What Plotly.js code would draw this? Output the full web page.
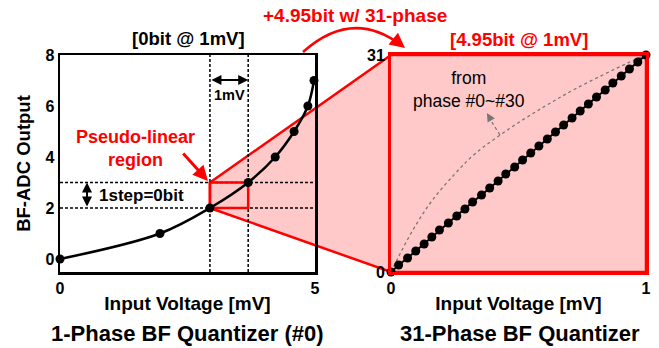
<!DOCTYPE html>
<html>
<head>
<meta charset="utf-8">
<script src="https://cdn.plot.ly/plotly-3.0.1.min.js"></script>
<style>html,body{margin:0;padding:0;background:#fff;}#chart{width:659px;height:348px;}</style>
</head>
<body>
<div id="chart"></div>
<script>
// ---- data ----
const phase0X = [0, 1.96, 2.94, 3.69, 4.22, 4.59, 4.86, 4.98];
const phase0Y = [0, 1, 2, 3, 4, 5, 6, 7];
const multiX = [0, 0.03, 0.065, 0.097, 0.13, 0.16, 0.19, 0.225, 0.258, 0.29, 0.32, 0.355, 0.387, 0.42, 0.45, 0.485,
                0.516, 0.548, 0.58, 0.613, 0.645, 0.677, 0.71, 0.742, 0.774, 0.806, 0.84, 0.87, 0.903, 0.935, 0.968, 1];
const multiY = [0, 1, 2, 3, 4, 5, 6, 7, 8, 9, 10, 11, 12, 13, 14, 15,
                16, 17, 18, 19, 20, 21, 22, 23, 24, 25, 26, 27, 28, 29, 30, 31];
const envX = [0, 0.027, 0.086, 0.157, 0.25, 0.33, 0.465, 0.6, 0.73, 0.925, 1];
const envY = [0, 2.0, 6.0, 10.0, 14.0, 16.9, 20.5, 23.6, 26.3, 29.8, 31];
const leftXTicks = [0, 5];
const leftYTicks = [0, 2, 4, 6, 8];
const rightXTicks = [0, 1];
const rightYTicks = [0, 31];
const winLo = 2.94, winHi = 3.69;   // 1 mV window on phase #0
const stepLo = 2, stepHi = 3;       // 1 step

// ---- layout geometry ----
const W = 659, H = 348;
const FONT = 'Liberation Sans, Arial, sans-serif';
const xDom1 = [60 / W, 315 / W];
const xDom2 = [391 / W, 646 / W];
const yDom = [(H - 272) / H, (H - 55) / H];
const xR1 = [0, 5], yR1 = [-0.51, 8];
const xR2 = [0, 1], yR2 = [0, 31];
const px = x => x / W;
const py = y => 1 - y / H;
function toPaper(v, r, d) { return d[0] + (v - r[0]) / (r[1] - r[0]) * (d[1] - d[0]); }
const L = (x, y) => [toPaper(x, xR1, xDom1), toPaper(y, yR1, yDom)];
const R = (x, y) => [toPaper(x, xR2, xDom2), toPaper(y, yR2, yDom)];

const poly = [L(winLo, stepHi), R(0, 31), R(1, 31), R(1, 0), R(0, 0), L(winLo, stepLo)];
const polyPath = 'M ' + poly.map(p => p[0].toFixed(5) + ' ' + p[1].toFixed(5)).join(' L ') + ' Z';

const bold = (size, color) => ({family: FONT, size: size, color: color || '#000', weight: 'bold'});

const traces = [
  {x: phase0X, y: phase0Y, xaxis: 'x', yaxis: 'y', mode: 'lines+markers', cliponaxis: false,
   line: {color: '#000', width: 2.5, shape: 'spline'}, marker: {color: '#000', size: 9}},
  {x: envX, y: envY, xaxis: 'x2', yaxis: 'y2', mode: 'lines', cliponaxis: false,
   line: {color: '#777', width: 1.3, dash: 'dot', shape: 'spline', smoothing: 1}},
  {x: multiX, y: multiY, xaxis: 'x2', yaxis: 'y2', mode: 'lines+markers', cliponaxis: false,
   line: {color: '#000', width: 2}, marker: {color: '#000', size: 9}}
];

const dotted = {color: '#000', width: 1.5, dash: '3px,2px'};
const shapes = [
  {type: 'path', xref: 'paper', yref: 'paper', path: polyPath, fillcolor: '#ffc9c9',
   line: {color: '#ff0000', width: 2.5}, layer: 'below'},
  {type: 'path', xref: 'paper', yref: 'paper',
   path: 'M ' + px(303) + ' ' + py(52) + ' Q ' + px(352) + ' ' + py(8) + ' ' + px(401) + ' ' + py(45),
   line: {color: '#ff0000', width: 2.5}},
  {type: 'line', xref: 'x', yref: 'y domain', x0: winLo, x1: winLo, y0: 0, y1: 1, line: dotted, layer: 'below'},
  {type: 'line', xref: 'x', yref: 'y domain', x0: winHi, x1: winHi, y0: 0, y1: 1, line: dotted, layer: 'below'},
  {type: 'line', xref: 'x domain', yref: 'y', x0: 0, x1: 1, y0: stepLo, y1: stepLo, line: dotted, layer: 'below'},
  {type: 'line', xref: 'x domain', yref: 'y', x0: 0, x1: 1, y0: stepHi, y1: stepHi, line: dotted, layer: 'below'},
  {type: 'rect', xref: 'x', yref: 'y', x0: winLo, x1: winHi, y0: stepLo, y1: stepHi,
   line: {color: '#ff0000', width: 2.5}, layer: 'below'},
  {type: 'line', xref: 'x2', yref: 'y2', x0: 0.427, y0: 19.6, x1: 0.38, y1: 22.3,
   line: {color: '#777', width: 1.3, dash: 'dot'}}
];

const txt = (x, y, text, font, ref) => ({xref: ref ? 'x' : 'paper', yref: ref ? 'y' : 'paper', x: x, y: y,
  text: text, showarrow: false, font: font, xanchor: 'center', yanchor: 'middle'});

const annotations = [
  txt(px(188), py(39), '[0bit @ 1mV]', bold(18.5)),
  txt(px(519), py(40), '[4.95bit @ 1mV]', bold(18.5, '#ff0000')),
  txt(px(355), py(15), '+4.95bit w/ 31-phase', bold(19, '#ff0000')),
  txt(px(187), py(333), '1-Phase BF Quantizer (#0)', bold(22)),
  txt(px(520), py(333), '31-Phase BF Quantizer', bold(22)),
  txt(px(135), py(149), 'Pseudo-linear<br>region', bold(18, '#ff0000')),
  txt(px(469), py(90), 'from<br>phase #0~#30', {family: FONT, size: 17.5, color: '#000'}),
  txt((winLo + winHi) / 2, 6.45, '1mV', bold(14.5), true),
  txt(1.59, 2.5, '1step=0bit', bold(17), true),
  {xref: 'x', yref: 'y', x: winHi, y: 7.02, axref: 'x', ayref: 'y', ax: winLo, ay: 7.02, text: '',
   showarrow: true, arrowside: 'end+start', arrowhead: 2, arrowsize: 1, arrowwidth: 2, arrowcolor: '#000'},
  {xref: 'x', yref: 'y', x: 0.53, y: stepHi, axref: 'x', ayref: 'y', ax: 0.53, ay: stepLo, text: '',
   showarrow: true, arrowside: 'end+start', arrowhead: 2, arrowsize: 1, arrowwidth: 2, arrowcolor: '#000'},
  {xref: 'x', yref: 'y', x: 2.9, y: 3.06, axref: 'x', ayref: 'y', ax: 2.39, ay: 4.2, text: '',
   showarrow: true, arrowhead: 2, arrowsize: 1, arrowwidth: 3, arrowcolor: '#ff0000'},
  {xref: 'x2', yref: 'y2', x: 0.376, y: 22.7, ax: 3, ay: 5, text: '',
   showarrow: true, arrowhead: 2, arrowsize: 1.3, arrowwidth: 1.3, arrowcolor: '#777'},
  {xref: 'paper', yref: 'paper', x: px(405), y: py(48), ax: -5, ay: -4, text: '',
   showarrow: true, arrowhead: 2, arrowsize: 1.2, arrowwidth: 2.5, arrowcolor: '#ff0000'}
];

const axBase = {showgrid: false, zeroline: false, ticks: '', tickfont: bold(16), automargin: false};
const layout = {
  width: W, height: H,
  margin: {l: 0, r: 0, t: 0, b: 0},
  paper_bgcolor: '#fff', plot_bgcolor: 'rgba(0,0,0,0)',
  showlegend: false,
  xaxis: Object.assign({}, axBase, {domain: xDom1, range: xR1, tickvals: leftXTicks, anchor: 'y',
    showline: true, mirror: true, linecolor: '#000', linewidth: 2.5,
    title: {text: 'Input Voltage [mV]', font: bold(19), standoff: 1}}),
  yaxis: Object.assign({}, axBase, {domain: yDom, range: yR1, tickvals: leftYTicks, anchor: 'x',
    showline: true, mirror: true, linecolor: '#000', linewidth: 2.5,
    title: {text: 'BF-ADC Output', font: bold(18.5), standoff: 10}}),
  xaxis2: Object.assign({}, axBase, {domain: xDom2, range: xR2, tickvals: rightXTicks, anchor: 'y2',
    showline: true, mirror: true, linecolor: '#ff0000', linewidth: 3,
    title: {text: 'Input Voltage [mV]', font: bold(19), standoff: 1}}),
  yaxis2: Object.assign({}, axBase, {domain: yDom, range: yR2, tickvals: rightYTicks, anchor: 'x2',
    showline: true, mirror: true, linecolor: '#ff0000', linewidth: 3}),
  shapes: shapes,
  annotations: annotations
};

Plotly.newPlot('chart', traces, layout, {staticPlot: true, displayModeBar: false});
</script>
</body>
</html>
